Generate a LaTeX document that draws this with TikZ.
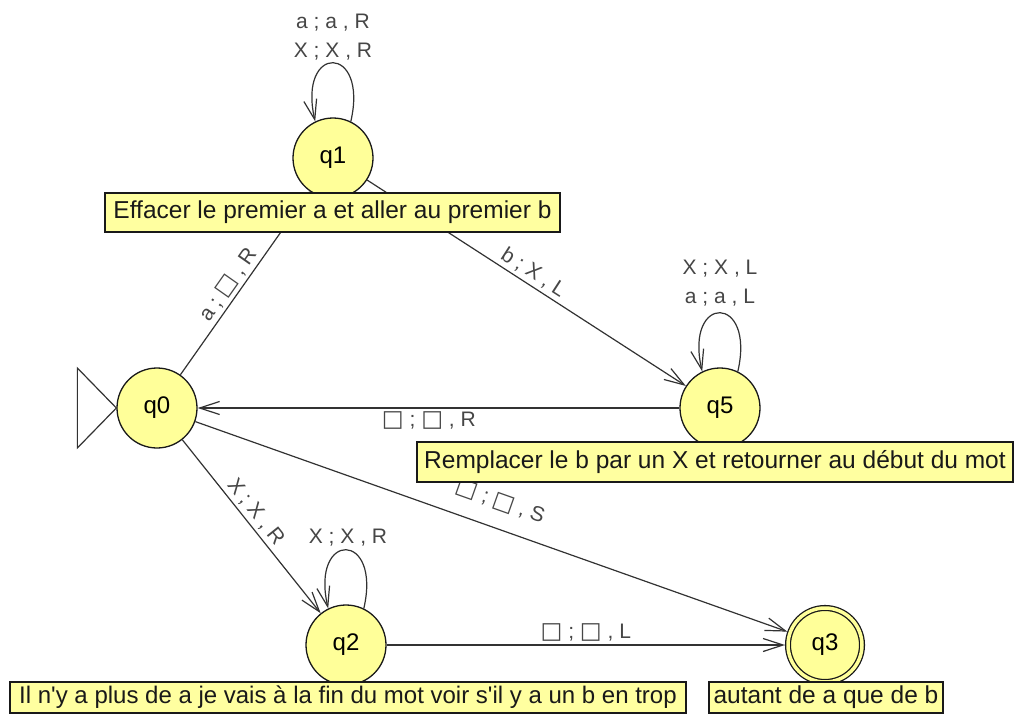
\documentclass[tikz,border=0pt]{standalone}
\usepackage{fontspec}
\setmainfont{Liberation Sans}
\newfontfamily\symfont[Scale=1.1]{DejaVu Sans}
\usetikzlibrary{arrows.meta}
\newcommand{\bl}{{\symfont □}}
\definecolor{stateyellow}{RGB}{255,255,153}
\definecolor{noteyellow}{RGB}{255,255,160}
\definecolor{edgegray}{RGB}{50,50,50}
\definecolor{labelgray}{RGB}{70,70,70}

\begin{document}
\begin{tikzpicture}[x=1pt,y=1pt,
  state/.style={circle, draw=black!90, fill=stateyellow, line width=1.3pt,
    minimum size=80pt, inner sep=0pt, font=\fontsize{24}{28}\selectfont},
  accepting/.style={double=stateyellow, double distance=3.5pt,
    minimum size=74pt, outer sep=3pt},
  trans/.style={-{Straight Barb[length=20pt,width=13pt,line width=1.2pt]},
    line width=1.2pt, draw=edgegray},
  lbl/.style={font=\fontsize{21}{29}\selectfont, text=labelgray, inner sep=3pt},
  note/.style={draw=black!90, fill=noteyellow, line width=1.3pt, inner sep=0pt,
    font=\fontsize{24.5}{28}\selectfont, text=black!90}
]
\useasboundingbox (0,0) rectangle (1015,-720);

% states
\node[state] (q0) at (157,-408) {q0};
\node[state] (q1) at (333,-158) {q1};
\node[state] (q5) at (720,-408) {q5};
\node[state] (q2) at (346,-645) {q2};
\node[state, accepting] (q3) at (825,-645) {q3};

% initial-state marker
\draw[line width=1.2pt, draw=edgegray] (q0.west) -- ++(-39,40) -- ++(0,-80) -- cycle;

% transitions
\draw[trans] (q0) -- node[lbl, sloped, above, pos=0.45] {a ; \bl{} , R} (q1);
\draw[trans] (q1) -- node[lbl, sloped, above] {b ; X , L} (q5);
\draw[trans] (q5) -- node[lbl, below, pos=0.52] {\bl{} ; \bl{} , R} (q0);
\draw[trans] (q0) -- node[lbl, sloped, above=14pt] {\bl{} ; \bl{} , S} (q3);
\draw[trans] (q0) -- node[lbl, sloped, above, pos=0.46] {X ; X , R} (q2);
\draw[trans] (q2) -- node[lbl, above] {\bl{} ; \bl{} , L} (q3);

% self-loops
\draw[trans] (q1.64) .. controls +(77:80) and +(103:80) .. (q1.116);
\node[lbl, align=center] (l1) at (333,-37) {a ; a , R\\X ; X , R};
\draw[trans] (q5.64) .. controls +(77:80) and +(103:80) .. (q5.116);
\node[lbl, align=center] (l5) at (720,-283) {X ; X , L\\a ; a , L};
\draw[trans] (q2.64) .. controls +(77:80) and +(103:80) .. (q2.116);
\node[lbl] (l2) at (348,-538) {X ; X , R};

% notes attached to the states
\node[note, minimum width=455pt, minimum height=39pt] (n1) at (332.5,-212.5)
  {Effacer le premier a et aller au premier b};
\node[note, minimum width=596pt, minimum height=40pt] (n5) at (715,-462)
  {Remplacer le b par un X et retourner au début du mot};
\node[note, minimum width=676pt, minimum height=31pt, font=\fontsize{24}{28}\selectfont] (n2) at (348,-697.5)
  {Il n\textquotesingle y a plus de a je vais à la fin du mot voir s\textquotesingle il y a un b en trop};
\node[note, minimum width=234pt, minimum height=31pt] (n3) at (826,-697.5)
  {autant de a que de b};
\end{tikzpicture}
\end{document}
